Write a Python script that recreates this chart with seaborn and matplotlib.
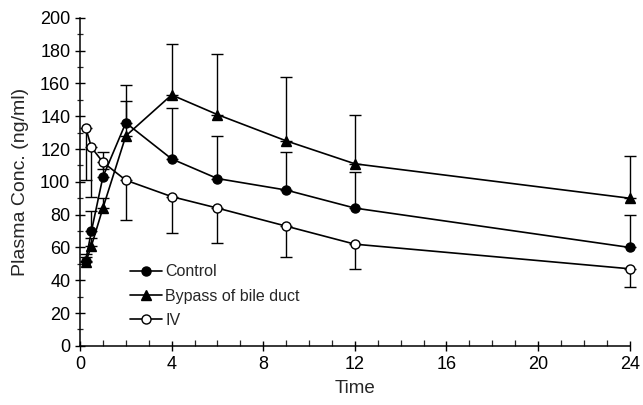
import numpy as np
import pandas as pd
import matplotlib
matplotlib.use("Agg")
import matplotlib.pyplot as plt
from matplotlib.ticker import MultipleLocator
import seaborn as sns

# sampling times (h)
time = [0.25, 0.5, 1, 2, 4, 6, 9, 12, 24]

# mean plasma concentrations (ng/ml)
control = [52, 70, 103, 136, 114, 102, 95, 84, 60]
bypass = [51, 61, 84, 128, 153, 141, 125, 111, 90]
iv = [133, 121, 112, 101, 91, 84, 73, 62, 47]

# one-sided error bar ends
control_upper = [56, 82, 118, 149, 145, 128, 118, 106, 80]
bypass_upper = [54, 66, 90, 159, 184, 178, 164, 141, 116]
iv_lower = [101, 91, 108, 77, 69, 63, 54, 47, 36]

sns.set_style("ticks")
plt.rcParams["font.family"] = ["Liberation Sans", "DejaVu Sans"]

fig = plt.figure(figsize=(6.43, 4.05), dpi=100)
ax = fig.add_axes([0.1244, 0.146, 0.855, 0.81])

series = [
    ("Control", control, "o", "black"),
    ("Bypass of bile duct", bypass, "^", "black"),
    ("IV", iv, "o", "white"),
]
for name, vals, mk, face in series:
    df = pd.DataFrame({"Time": time, "conc": vals})
    sns.lineplot(data=df, x="Time", y="conc", ax=ax, color="black", lw=1.2,
                 marker=mk, markersize=6.5, markerfacecolor=face,
                 markeredgecolor="black", markeredgewidth=1.0, label=name,
                 zorder=3, clip_on=False)

t = np.array(time)
bars = []
for vals, ends in [(control, control_upper), (bypass, bypass_upper)]:
    v = np.array(vals)
    e = np.array(ends) - v
    bars.append(ax.errorbar(t, v, yerr=[np.zeros_like(e), e], fmt="none",
                            ecolor="black", elinewidth=1.0, capsize=4,
                            capthick=1.0, zorder=2))
v = np.array(iv)
e = v - np.array(iv_lower)
bars.append(ax.errorbar(t, v, yerr=[e, np.zeros_like(e)], fmt="none",
                        ecolor="black", elinewidth=1.0, capsize=4,
                        capthick=1.0, zorder=2))
for b in bars:
    for art in b.lines[1] + b.lines[2]:
        art.set_clip_on(False)

ax.set_xlim(0, 24)
ax.set_ylim(0, 200)
ax.xaxis.set_major_locator(MultipleLocator(4))
ax.xaxis.set_minor_locator(MultipleLocator(1))
ax.yaxis.set_major_locator(MultipleLocator(20))
ax.yaxis.set_minor_locator(MultipleLocator(10))
ax.tick_params(axis="both", which="major", direction="inout", length=7,
               width=1.0, labelsize=13, colors="black")
ax.tick_params(axis="x", which="minor", direction="in", length=4, width=0.9)
ax.tick_params(axis="y", which="minor", direction="inout", length=5, width=0.9)
sns.despine(ax=ax)
for s in ["left", "bottom"]:
    ax.spines[s].set_linewidth(1.1)
    ax.spines[s].set_color("black")

ax.set_xlabel("Time", fontsize=13.5, labelpad=5)
ax.set_ylabel("Plasma Conc. (ng/ml)", fontsize=14, labelpad=8)

ax.legend(loc="lower left", bbox_to_anchor=(0.08, 0.035), frameon=False,
          fontsize=11.5, handlelength=2.0, handletextpad=0.2,
          labelspacing=0.58, borderaxespad=0)

fig.savefig("out.png", dpi=100)
